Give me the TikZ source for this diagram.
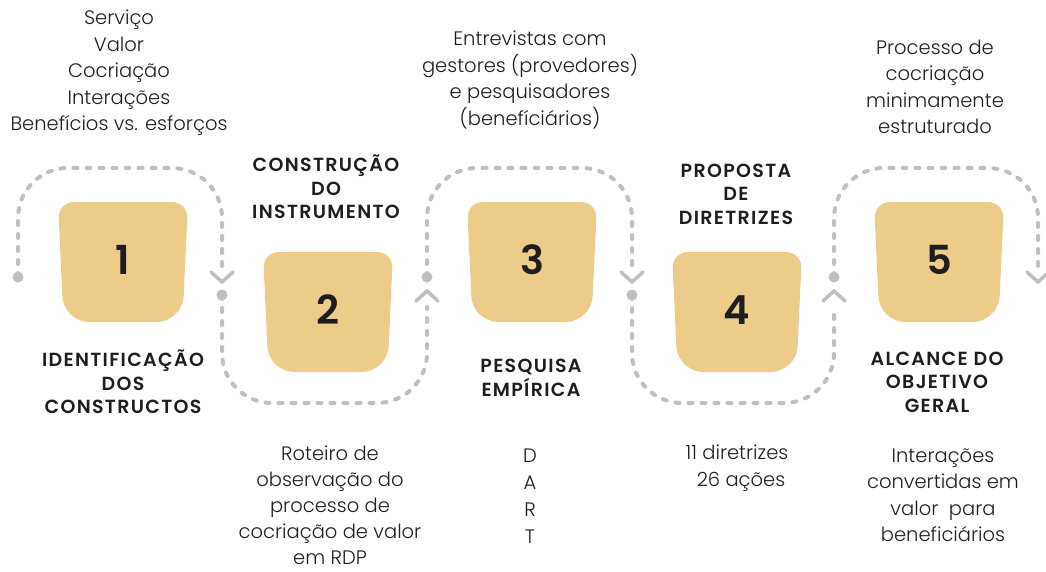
\documentclass[tikz,border=0pt]{standalone}
\usepackage{fontspec}
\IfFontExistsTF{Poppins Light}{\setmainfont{Poppins Light}}{\setmainfont{Poppins}}
\IfFontExistsTF{Poppins SemiBold}{\newfontfamily\titlefont[LetterSpace=7]{Poppins SemiBold}\newcommand\titleweight{}}{\newfontfamily\titlefont[LetterSpace=7]{Poppins}\newcommand\titleweight{\bfseries}}
\IfFontExistsTF{Poppins SemiBold}{\newfontfamily\numfont{Poppins SemiBold}}{\newfontfamily\numfont{Poppins}}
\definecolor{sand}{HTML}{EDCB88}
\definecolor{dgray}{HTML}{BFBFBF}
\definecolor{ink}{HTML}{1E1E1E}
\newcommand\sandbox[4]{% name, x, y, label
  \fill[sand] (#2,#3-60) [rounded corners=16pt] -- (#2+65,#3-60) [rounded corners=26pt] -- (#2+59.5,#3+60) -- (#2-59.5,#3+60) [rounded corners=16pt] -- (#2-65,#3-60) -- cycle;
  \node[numtxt] (#1) at (#2,#3-2) {#4};
}
\begin{document}
\begin{tikzpicture}[x=1pt,y=-1pt,
  numtxt/.style={inner sep=0pt, text=ink, font=\numfont\fontsize{40}{40}\selectfont},
  bodytxt/.style={inner sep=0pt, align=center, text=ink, font=\fontsize{19.5}{26.5}\selectfont},
  titletxt/.style={inner sep=0pt, align=center, text=ink, font=\titlefont\fontsize{19}{23.5}\selectfont\titleweight},
  dl/.style={draw=dgray, line width=4pt, dash pattern=on 4pt off 9pt, line cap=round, rounded corners=50pt},
  dotn/.style={circle, fill=dgray, minimum size=11pt, inner sep=0pt},
  chev/.style={draw=dgray, line width=3.5pt, line cap=round},
]
\useasboundingbox (0,0) rectangle (1046,572);

% boxes
\sandbox{b1}{123}{262}{1}
\sandbox{b2}{328}{312}{2}
\sandbox{b3}{532}{262}{3}
\sandbox{b4}{737}{312}{4}
\sandbox{b5}{939}{262}{5}

% dots (start of each segment)
\node[dotn] (s1) at (18,277) {};
\node[dotn] (s2) at (222,295) {};
\node[dotn] (s3) at (427,277) {};
\node[dotn] (s4) at (632,295) {};
\node[dotn] (s5) at (834,277) {};

% chevron tips
\coordinate (c1) at (222,282);
\coordinate (c2) at (427,291);
\coordinate (c3) at (632,282);
\coordinate (c4) at (834,291);
\coordinate (c5) at (1038,282);

% ends of dashed lines
\coordinate (e1) at (222,266);
\coordinate (e2) at (427,307);
\coordinate (e3) at (632,266);
\coordinate (e4) at (834,307);
\coordinate (e5) at (1038,266);

\draw[dl] (s1.center) -- ++(0,-109) -| (e1);
\draw[dl] (s2.center) -- ++(0,108) -| (e2);
\draw[dl] (s3.center) -- ++(0,-109) -| (e3);
\draw[dl] (s4.center) -- ++(0,108) -| (e4);
\draw[dl] (s5.center) -- ++(0,-109) -| (e5);

\draw[chev] (c1) ++(-11,-10) -- (c1) -- ++(11,-10);
\draw[chev] (c2) ++(-11,10) -- (c2) -- ++(11,10);
\draw[chev] (c3) ++(-11,-10) -- (c3) -- ++(11,-10);
\draw[chev] (c4) ++(-11,10) -- (c4) -- ++(11,10);
\draw[chev] (c5) ++(-11,-10) -- (c5) -- ++(11,-10);

% texts
\node[bodytxt] (t1) at (119,73) {Serviço\\Valor\\Cocriação\\Interações\\Benefícios vs. esforços};
\node[titletxt] (h1) at (123,382) {IDENTIFICAÇÃO\\DOS\\CONSTRUCTOS};

\node[titletxt] (h2) at (326,187) {CONSTRUÇÃO\\DO\\INSTRUMENTO};
\node[bodytxt, font=\fontsize{19.5}{26}\selectfont] (t2) at (330,505) {Roteiro de\\observação do\\processo de\\cocriação de valor\\em RDP};

\node[bodytxt] (t3) at (530,80) {Entrevistas com\\gestores (provedores)\\e pesquisadores\\(benefíciários)};
\node[titletxt] (h3) at (531,378) {PESQUISA\\EMPÍRICA};
\node[bodytxt, font=\fontsize{19.5}{27}\selectfont] (t3b) at (530,496) {D\\A\\R\\T};

\node[titletxt] (h4) at (736,194) {PROPOSTA\\DE\\DIRETRIZES};
\node[bodytxt] (t4) at (737,468) {11 diretrizes\\\hspace*{8pt}26 ações};

\node[bodytxt] (t5) at (935,87) {Processo de\\cocriação\\minimamente\\estruturado};
\node[titletxt] (h5) at (937,382) {ALCANCE DO\\OBJETIVO\\GERAL};
\node[bodytxt] (t5b) at (943,495) {Interações\\convertidas em\\valor\ \ para\\beneficiários};
\end{tikzpicture}
\end{document}
